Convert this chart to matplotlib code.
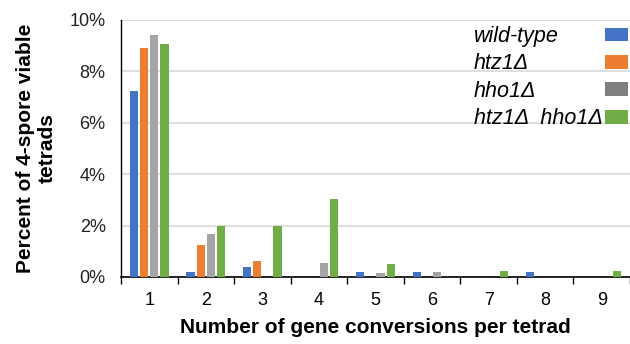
import numpy as np
import matplotlib.pyplot as plt
from matplotlib.ticker import PercentFormatter

plt.rcParams['font.family'] = ['Liberation Sans', 'DejaVu Sans']

# data (percent of 4-spore viable tetrads)
conversions = [1, 2, 3, 4, 5, 6, 7, 8, 9]
wild_type = [7.24, 0.18, 0.39, 0, 0.18, 0.18, 0, 0.18, 0]
htz1 = [8.9, 1.26, 0.61, 0, 0, 0, 0, 0, 0]
hho1 = [9.42, 1.67, 0, 0.54, 0.17, 0.18, 0, 0, 0]
htz1_hho1 = [9.08, 2.0, 2.0, 3.02, 0.49, 0, 0.23, 0, 0.23]

series = [wild_type, htz1, hho1, htz1_hho1]
names = ['wild-type', 'htz1Δ', 'hho1Δ', 'htz1Δ  hho1Δ']
colors = ['#4472C4', '#ED7D31', '#A5A5A5', '#70AD47']

fig = plt.figure(figsize=(6.3, 3.44), dpi=100)
ax = fig.add_axes([0.192, 0.195, 0.808, 0.747])

x = np.array(conversions)
pitch = 0.18
width = 0.147
for i, (vals, name, c) in enumerate(zip(series, names, colors)):
    ax.bar(x + (i - 1.5) * pitch, vals, width, color=c, label=name, zorder=3)

ax.set_xlim(0.5, 9.5)
ax.set_ylim(0, 10)
ax.set_yticks(np.arange(0, 11, 2))
ax.yaxis.set_major_formatter(PercentFormatter(decimals=0))
ax.set_xticks(x)
ax.set_xticks(np.arange(0.5, 10, 1), minor=True)
ax.tick_params(axis='x', which='major', length=0, labelsize=13, pad=11)
ax.tick_params(axis='x', which='minor', length=5, width=1, direction='out')
ax.tick_params(axis='y', length=0, labelsize=13, pad=11, labelcolor='#222222')
ax.grid(axis='y', color='#D9D9D9', linewidth=1.2, zorder=0)

for s in ['top', 'right']:
    ax.spines[s].set_visible(False)
ax.spines['left'].set_linewidth(1)
ax.spines['bottom'].set_linewidth(1.2)

ax.set_xlabel('Number of gene conversions per tetrad', fontsize=15, fontweight='bold', labelpad=6)
ax.set_ylabel('Percent of 4-spore viable\ntetrads', fontsize=15, fontweight='bold', labelpad=9, linespacing=1.2)

leg = ax.legend(loc='upper right', bbox_to_anchor=(1.0, 0.985), frameon=False, markerfirst=False,
                prop={'style': 'italic', 'size': 15.5}, handlelength=1.05, handleheight=0.6,
                labelspacing=0.3, handletextpad=0.6, borderaxespad=0.0, borderpad=0.1)
leg.legend_handles[2].set_facecolor('#7F7F7F')

# left-align the legend texts with the patches kept at the right edge
for column in leg._legend_handle_box.get_children():
    for item in column.get_children():
        item.mode = 'expand'
        item.width = 154

fig.savefig('out.png', dpi=100)
